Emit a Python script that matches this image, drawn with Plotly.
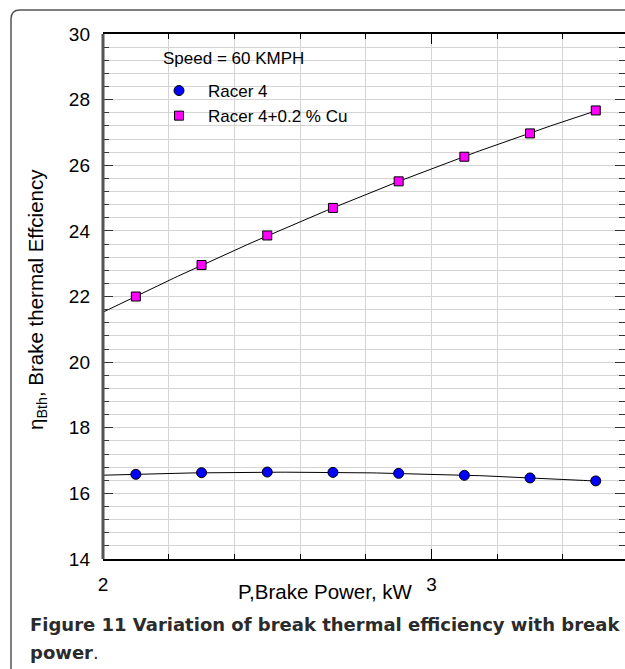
import numpy as np
import plotly.graph_objects as go

# ---- data ----
power_kw = [2.1, 2.3, 2.5, 2.7, 2.9, 3.1, 3.3, 3.5]
racer4 = [16.58, 16.63, 16.65, 16.64, 16.61, 16.55, 16.47, 16.38]
racer4_cu = [22.00, 22.96, 23.86, 24.70, 25.51, 26.26, 26.97, 27.67]
series_names = ["Racer 4", "Racer 4+0.2 % Cu"]
x_ticks = [2, 3]
y_ticks = [14, 16, 18, 20, 22, 24, 26, 28, 30]

W, H = 625, 669
L, R, T, B = 103, 625, 34, 559


def px(xp):
    return (xp - L) / (R - L)


def py(yp):
    return (B - yp) / (B - T)


# trend lines (quadratic least-squares fit of the read data)
xf = np.linspace(2.0, max(power_kw), 120)
fit_a = np.polyval(np.polyfit(power_kw, racer4, 2), xf)
fit_b = np.polyval(np.polyfit(power_kw, racer4_cu, 2), xf)

fig = go.Figure()
fig.add_trace(go.Scatter(x=xf, y=fit_a, mode="lines", line=dict(color="black", width=1),
                         showlegend=False, hoverinfo="skip"))
fig.add_trace(go.Scatter(x=xf, y=fit_b, mode="lines", line=dict(color="black", width=1),
                         showlegend=False, hoverinfo="skip"))
fig.add_trace(go.Scatter(x=power_kw, y=racer4, mode="markers", name=series_names[0],
                         marker=dict(symbol="circle", size=10, color="#0000ff",
                                     line=dict(color="black", width=1))))
fig.add_trace(go.Scatter(x=power_kw, y=racer4_cu, mode="markers", name=series_names[1],
                         marker=dict(symbol="square", size=9, color="#ff00ff",
                                     line=dict(color="black", width=1))))

grid = "#d4d4d4"
sans = "Liberation Sans, Arial, sans-serif"
axfont = dict(family=sans, size=19, color="black")

fig.update_xaxes(range=[2, 2 + (R - L) / 328.5], tickmode="array", tickvals=x_ticks,
                 ticktext=[str(v) for v in x_ticks],
                 ticks="inside", ticklen=10, tickcolor="black", tickwidth=1,
                 showline=True, linecolor="black", linewidth=1.5, mirror="ticks",
                 showgrid=True, gridcolor=grid, gridwidth=1, zeroline=False,
                 tickfont=axfont, ticklabelstandoff=7,
                 minor=dict(dtick=0.2, tick0=2, ticks="inside", ticklen=5,
                            tickcolor="black", showgrid=True, gridcolor=grid, gridwidth=1))
fig.update_yaxes(range=[14, 30], tickmode="array", tickvals=y_ticks,
                 ticktext=[str(v) for v in y_ticks],
                 ticks="inside", ticklen=10, tickcolor="#333", tickwidth=1,
                 showline=False, mirror="ticks",
                 showgrid=True, gridcolor=grid, gridwidth=1, zeroline=False,
                 tickfont=axfont, ticklabelstandoff=12,
                 minor=dict(dtick=0.4, tick0=14, ticks="inside", ticklen=6,
                            tickcolor="#333", showgrid=True, gridcolor=grid, gridwidth=1))

shapes = [
    # left axis line (thick grey)
    dict(type="line", xref="paper", yref="paper", x0=0, x1=0, y0=0, y1=1,
         line=dict(color="#555555", width=3)),
    # outer rounded frame
    dict(type="path", xref="paper", yref="paper",
         path=(f"M {px(11)},{py(669)} L {px(11)},{py(19)} "
               f"Q {px(11)},{py(10)} {px(20)},{py(10)} L {px(625)},{py(10)}"),
         line=dict(color="#555555", width=1.5)),
]

annotations = [
    dict(text="Speed = 60 KMPH", x=px(161), y=py(58), xref="paper", yref="paper",
         xanchor="left", yanchor="middle", showarrow=False,
         font=dict(family=sans, size=17, color="black")),
    dict(text="P,Brake Power, kW", x=px(325), y=py(591), xref="paper", yref="paper",
         xanchor="center", yanchor="middle", showarrow=False,
         font=dict(family=sans, size=20.5, color="black")),
    dict(text="η<sub>Bth</sub>, Brake thermal Effciency", x=px(37), y=py(300),
         xref="paper", yref="paper", xanchor="center", yanchor="middle",
         textangle=-90, showarrow=False,
         font=dict(family=sans, size=20.5, color="black")),
]

cap_font = dict(family="DejaVu Sans, sans-serif", size=18, color="#2b2b2b")
annotations.append(dict(text="<b>Figure 11 Variation of break thermal efficiency with break</b>",
                        x=px(28), y=py(624), xref="paper", yref="paper",
                        xanchor="left", yanchor="middle", showarrow=False, font=cap_font))
annotations.append(dict(text="<b>power</b>.", x=px(28), y=py(652), xref="paper", yref="paper",
                        xanchor="left", yanchor="middle", showarrow=False, font=cap_font))

fig.update_layout(
    width=W, height=H,
    margin=dict(l=L, r=W - R, t=T, b=H - B, pad=0),
    paper_bgcolor="white", plot_bgcolor="white",
    shapes=shapes, annotations=annotations,
    legend=dict(x=px(150), y=py(73), xanchor="left", yanchor="top",
                bgcolor="rgba(0,0,0,0)", borderwidth=0, itemwidth=48,
                font=dict(family=sans, size=17, color="black"),
                tracegroupgap=0),
)

fig.write_html("out.html")
